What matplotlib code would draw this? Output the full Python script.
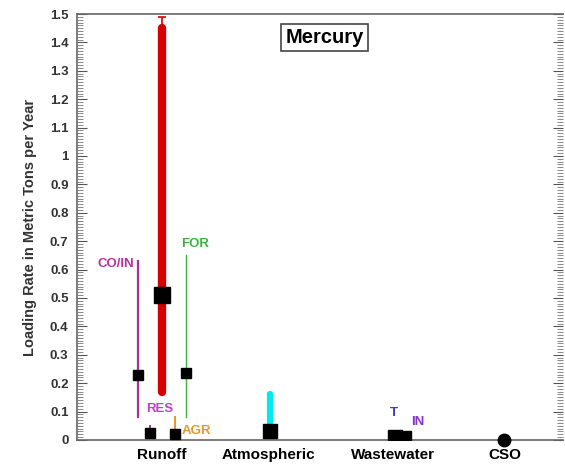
import numpy as np
import matplotlib.pyplot as plt
from matplotlib.ticker import MultipleLocator

plt.rcParams['font.family'] = ['Liberation Sans', 'DejaVu Sans']

# category positions on a 0-10 horizontal scale
categories = ['Runoff', 'Atmospheric', 'Wastewater', 'CSO']
cat_x = [1.75, 3.95, 6.5, 8.8]

# runoff total: range bar, mean and upper error
runoff_x = 1.75
runoff_lo, runoff_hi, runoff_mean, runoff_err = 0.17, 1.45, 0.51, 1.49

# land-use runoff components: x, low, high, mean
landuse_names = ['CO/IN', 'RES', 'AGR', 'FOR']
landuse_x = [1.26, 1.50, 2.02, 2.24]
landuse_lo = [0.08, 0.03, 0.02, 0.08]
landuse_hi = [0.63, 0.05, 0.08, 0.65]
landuse_mean = [0.23, 0.025, 0.02, 0.235]
landuse_colors = ['#a8329c', '#a030a8', '#e8962e', '#3cb43c']

# atmospheric deposition
atm_x = 3.97
atm_lo, atm_hi, atm_mean = 0.03, 0.16, 0.03

# wastewater: total and industrial
ww_names = ['T', 'IN']
ww_x = [6.54, 6.77]
ww_mean = [0.012, 0.013]

# combined sewer overflow
cso_x = 8.8
cso_mean = 0.0

fig = plt.figure(figsize=(5.65, 4.67), dpi=100)
ax = fig.add_axes([0.136, 0.058, 0.86, 0.912])

# runoff total
ax.plot([runoff_x, runoff_x], [runoff_lo, runoff_hi], color='#d40000', lw=6,
        solid_capstyle='round', zorder=2)
ax.errorbar(runoff_x, runoff_hi, yerr=[[0], [runoff_err - runoff_hi]], color='#d40000',
            lw=1.2, capsize=3, capthick=1.2, zorder=2)
ax.plot(runoff_x, runoff_mean, 's', color='black', ms=11.5, zorder=4)

# land-use components
lws = [1.6, 1.4, 1.4, 1.0]
for x, lo, hi, m, c, w in zip(landuse_x, landuse_lo, landuse_hi, landuse_mean, landuse_colors, lws):
    ax.plot([x, x], [lo, hi], color=c, lw=w, zorder=2)
    ax.plot(x, m, 's', color='black', ms=7, zorder=4)

lab = dict(fontsize=9.5, fontweight='bold', va='center')
ax.text(1.18, 0.62, 'CO/IN', color='#c0309a', ha='right', **lab)
ax.text(1.43, 0.11, 'RES', color='#c040c8', ha='left', **lab)
ax.text(2.15, 0.03, 'AGR', color='#e8962e', ha='left', **lab)
ax.text(2.15, 0.69, 'FOR', color='#3cb43c', ha='left', **lab)

# atmospheric
ax.plot([atm_x, atm_x], [atm_lo, atm_hi], color='#00e8f0', lw=4.5,
        solid_capstyle='round', zorder=2)
ax.plot(atm_x, atm_mean, 's', color='black', ms=10, zorder=4)

# wastewater
ax.plot(ww_x[1], ww_mean[1], 's', color='black', ms=6.5, zorder=4)
ax.plot(ww_x[0], ww_mean[0], 's', color='black', ms=9.5, zorder=5)
ax.text(6.45, 0.095, 'T', color='#3c3cc0', ha='left', **lab)
ax.text(6.88, 0.063, 'IN', color='#8c32c8', ha='left', **lab)

# CSO
ax.plot(cso_x, cso_mean, 'o', color='black', ms=9, zorder=5, clip_on=False)

ax.set_xlim(0, 10)
ax.set_ylim(0, 1.5)
ax.set_xticks(cat_x)
ax.set_xticklabels(categories, fontsize=11, fontweight='bold')
ax.tick_params(axis='x', length=0, pad=6)

yt = np.round(np.arange(0, 1.51, 0.1), 1)
ax.yaxis.set_minor_locator(MultipleLocator(0.01))
ax.set_yticks(yt)
ax.set_yticklabels([f'{v:g}' for v in yt], fontsize=9.5, fontweight='bold', color='#333333')
ax.tick_params(axis='y', which='major', direction='in', length=7, width=0.8, color='#555555',
               right=True, left=True, pad=6)
ax.tick_params(axis='y', which='minor', direction='in', length=4, width=0.6, color='#777777',
               right=True, left=True)

for s in ['left', 'top', 'bottom']:
    ax.spines[s].set_color('#666666')
    ax.spines[s].set_linewidth(1.2)
ax.spines['right'].set_visible(False)

ax.set_ylabel('Loading Rate in Metric Tons per Year', fontsize=10.5, fontweight='bold',
              color='#333333', labelpad=9)

ax.text(0.51, 0.944, 'Mercury', transform=ax.transAxes, fontsize=14.5, fontweight='bold',
        ha='center', va='center',
        bbox=dict(boxstyle='square,pad=0.2', facecolor='white', edgecolor='#444444', lw=1.2))

fig.savefig('out.png', dpi=100)
